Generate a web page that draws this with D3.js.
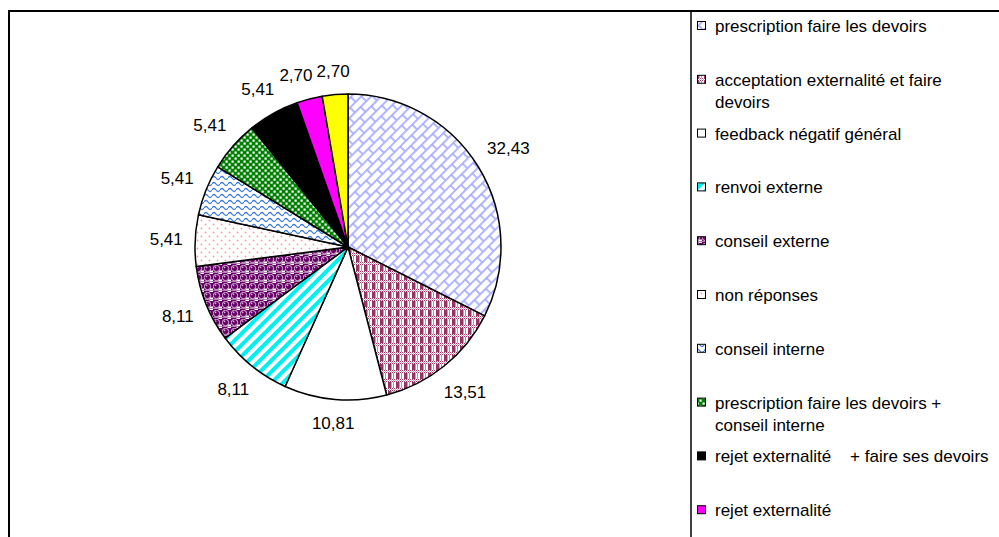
<!DOCTYPE html>
<html><head><meta charset="utf-8">
<script src="https://cdn.jsdelivr.net/npm/d3@7"></script>
<style>body{margin:0;background:#fff}svg{display:block;font-family:"Liberation Sans",Arial,sans-serif}</style>
</head><body>
<script>
const categories = [
  ["prescription faire les devoirs"],
  ["acceptation externalité et faire", "devoirs"],
  ["feedback négatif général"],
  ["renvoi externe"],
  ["conseil externe"],
  ["non réponses"],
  ["conseil interne"],
  ["prescription faire les devoirs +", "conseil interne"],
  ["rejet externalité    + faire ses devoirs"],
  ["rejet externalité"],
  ["autres"]
];
const values = [32.43, 13.51, 10.81, 8.11, 8.11, 5.41, 5.41, 5.41, 5.41, 2.70, 2.70];
const valueLabels = ["32,43","13,51","10,81","8,11","8,11","5,41","5,41","5,41","5,41","2,70","2,70"];
const fills = ["url(#pBrick)","url(#pPlaid)","#ffffff","url(#pStripe)","url(#pSphere)","url(#pDots)","url(#pWave)","url(#pGreen)","#000000","#ff00ff","#ffff00"];

const W = 999, H = 537;
const svg = d3.select("body").append("svg").attr("width", W).attr("height", H);
const defs = svg.append("defs");

// brick pattern (diagonal)
let p = defs.append("pattern").attr("id","pBrick").attr("patternUnits","userSpaceOnUse")
  .attr("width",16).attr("height",14).attr("patternTransform","rotate(-45)");
p.append("rect").attr("width",16).attr("height",14).attr("fill","#fff");
p.append("path").attr("d","M0,0.8H16M0,7.8H16M4,0.8V7.8M12,7.8V14").attr("stroke","#a8acff").attr("stroke-width",1.7).attr("fill","none");

// plaid maroon
p = defs.append("pattern").attr("id","pPlaid").attr("patternUnits","userSpaceOnUse").attr("width",8).attr("height",9);
p.append("rect").attr("width",8).attr("height",9).attr("fill","#fff");
p.append("rect").attr("x",0).attr("y",0).attr("width",3.5).attr("height",6).attr("fill","#993366");
p.append("rect").attr("x",5).attr("y",0).attr("width",1).attr("height",6).attr("fill","#c28aa5");
p.append("path").attr("d","M0,6.5H8M0,8.5H8").attr("stroke","#993366").attr("stroke-width",1).attr("stroke-dasharray","1,1");
p.append("path").attr("d","M1,7.5H8").attr("stroke","#d9a6bf").attr("stroke-width",1).attr("stroke-dasharray","1,1");

// cyan stripes
p = defs.append("pattern").attr("id","pStripe").attr("patternUnits","userSpaceOnUse")
  .attr("width",8).attr("height",8).attr("patternTransform","rotate(-45)");
p.append("rect").attr("width",8).attr("height",8).attr("fill","#fff");
p.append("rect").attr("width",8).attr("height",4).attr("fill","#00f0f0");

// spheres purple
p = defs.append("pattern").attr("id","pSphere").attr("patternUnits","userSpaceOnUse").attr("width",9).attr("height",9);
p.append("rect").attr("width",9).attr("height",9).attr("fill","#660066");
p.append("rect").attr("x",5.5).attr("y",5.5).attr("width",3.5).attr("height",3.5).attr("fill","#fff");
p.append("rect").attr("x",0).attr("y",7).attr("width",9).attr("height",1).attr("fill","#b57fb5");
p.append("circle").attr("cx",3.5).attr("cy",3.5).attr("r",3.2).attr("fill","#660066").attr("stroke","#fff").attr("stroke-width",0.7);
p.append("circle").attr("cx",2.6).attr("cy",2.4).attr("r",0.8).attr("fill","#d9b3d9");

// pink dots
p = defs.append("pattern").attr("id","pDots").attr("patternUnits","userSpaceOnUse").attr("width",8).attr("height",8);
p.append("rect").attr("width",8).attr("height",8).attr("fill","#fff");
p.append("circle").attr("cx",1.5).attr("cy",1.5).attr("r",0.9).attr("fill","#ff9999");
p.append("circle").attr("cx",5.5).attr("cy",5.5).attr("r",0.9).attr("fill","#ff9999");

// blue wave
p = defs.append("pattern").attr("id","pWave").attr("patternUnits","userSpaceOnUse").attr("width",8).attr("height",6);
p.append("rect").attr("width",8).attr("height",6).attr("fill","#fff");
p.append("path").attr("d","M0,3 Q2,0 4,3 T8,3").attr("stroke","#3a7bd5").attr("stroke-width",1.3).attr("fill","none");

// green checker
p = defs.append("pattern").attr("id","pGreen").attr("patternUnits","userSpaceOnUse").attr("width",6).attr("height",6);
p.append("rect").attr("width",6).attr("height",6).attr("fill","#008000");
p.append("rect").attr("x",0.5).attr("y",0.5).attr("width",2.2).attr("height",2.2).attr("fill","#fff");
p.append("rect").attr("x",3.5).attr("y",3.5).attr("width",2.2).attr("height",2.2).attr("fill","#fff");

// frame
svg.append("rect").attr("x",9).attr("y",11).attr("width",1200).attr("height",1000)
  .attr("fill","none").attr("stroke","#000").attr("stroke-width",2);
svg.append("line").attr("x1",691).attr("x2",691).attr("y1",11).attr("y2",H+5)
  .attr("stroke","#000").attr("stroke-width",1.5);

// pie
const cx = 348, cy = 247, r = 153;
const pie = d3.pie().sort(null).value(d => d);
const arcs = pie(values);
const arc = d3.arc().innerRadius(0).outerRadius(r);
const g = svg.append("g").attr("transform",`translate(${cx},${cy})`);
g.selectAll("path").data(arcs).join("path")
  .attr("d", arc).attr("fill", (d,i) => fills[i])
  .attr("stroke","#000").attr("stroke-width",1.5).attr("stroke-linejoin","round");

// labels with simple collision avoidance (rotate counter-clockwise)
const fs = 17;
const labels = g.selectAll("text.lbl").data(arcs).join("text").attr("class","lbl")
  .attr("font-size",fs).attr("fill","#000").attr("text-anchor","middle")
  .text((d,i) => valueLabels[i]);
const placed = [];
const hh = 13;
function boxAt(a, w){
  const dx = Math.sin(a), dy = -Math.cos(a);
  const dist = r + 12 + Math.abs(dx)*w/2 + Math.abs(dy)*10;
  const x = dx*dist, y = dy*dist;
  return {x, y, x0:x-w/2, x1:x+w/2, y0:y-hh/2, y1:y+hh/2};
}
function overlaps(b){
  return placed.some(o => b.x0 < o.x1 + 4 && b.x1 > o.x0 - 4 && b.y0 < o.y1 + 2 && b.y1 > o.y0 - 2);
}
const nodes = labels.nodes();
for (let i = nodes.length - 1; i >= 0; i--) {
  const node = nodes[i], d = arcs[i];
  const w = node.getComputedTextLength();
  let a = (d.startAngle + d.endAngle)/2;
  let b = boxAt(a, w), k = 0;
  while (overlaps(b) && k < 60) { a -= 0.01; b = boxAt(a, w); k++; }
  placed.push(b);
  d3.select(node).attr("x", b.x).attr("y", b.y + 6);
}

// legend
const lg = svg.append("g");
const step = 53.8, base = 32;
categories.forEach((lines, i) => {
  const by = base + i*step;
  if (by > H) return;
  lg.append("rect").attr("x",697.5).attr("y",by-10.5).attr("width",8).attr("height",8)
    .attr("fill",fills[i]).attr("stroke","#000").attr("stroke-width",1);
  const t = lg.append("text").attr("font-size",fs).attr("fill","#000").attr("xml:space","preserve")
    .style("white-space","pre");
  lines.forEach((ln, j) => {
    t.append("tspan").attr("x",715).attr("y", by + j*22).text(ln);
  });
});
</script>
</body></html>
